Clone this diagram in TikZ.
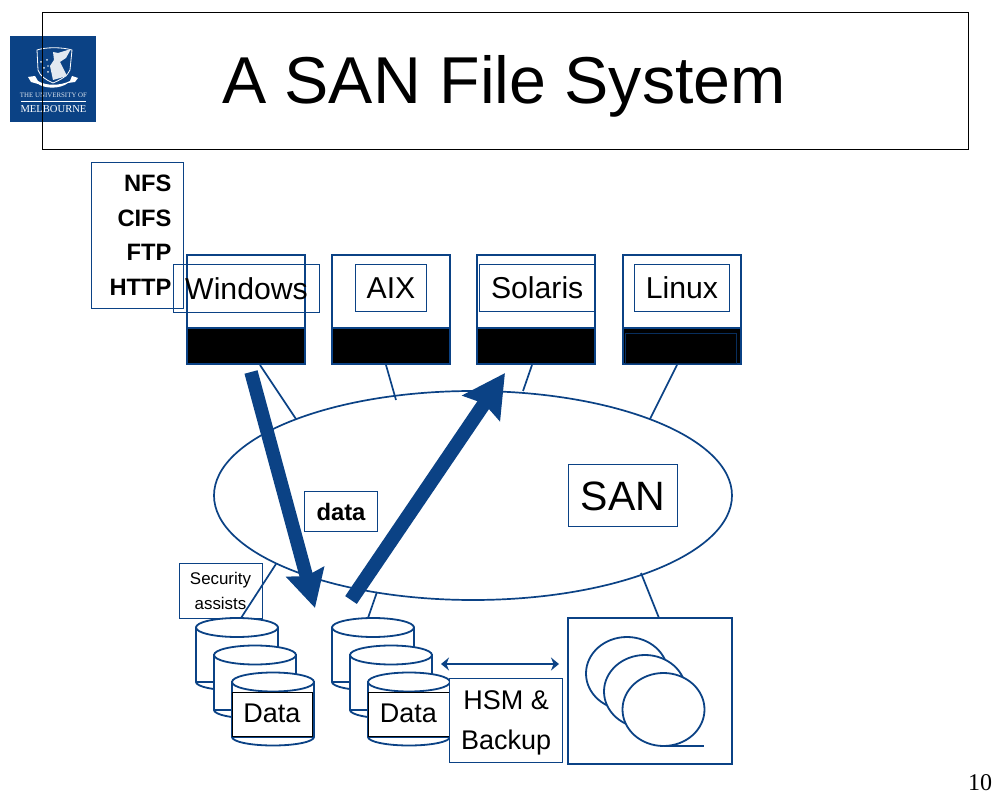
\documentclass[tikz,border=0pt]{standalone}
\usepackage{fontspec}
\setmainfont{Liberation Sans}
\newfontfamily\serifface{Liberation Serif}
\usetikzlibrary{arrows.meta,shapes.geometric}
\definecolor{uni}{HTML}{0B4285}
\newcommand{\fsz}[1]{\fontsize{#1}{#1}\selectfont}
\tikzset{
  x=1pt,y=-1pt,
  every node/.style={inner sep=0pt,outer sep=0pt},
  label box/.style={draw=uni,line width=1pt,text=black,align=center},
  os label/.style={label box,font=\fsz{30.2},text height=21.5pt,text depth=0pt},
  server/.style={draw=uni,line width=2.2pt,minimum width=118pt,minimum height=109pt},
  blackpart/.style={draw=uni,line width=2.2pt,fill=black,minimum width=118pt,minimum height=36pt},
  link/.style={draw=uni,line width=1.7pt},
  flow one/.style={draw=uni,line width=13.5pt,-{Stealth[length=37pt,width=38pt,inset=4pt]}},
  flow two/.style={draw=uni,line width=14pt,-{Stealth[length=42pt,width=44pt,inset=5pt]}},
  can/.style={draw=uni,line width=1.8pt,fill=white},
  data box/.style={draw=black,line width=1pt,fill=white,text=black,font=\fsz{27},text height=19.5pt,text depth=3pt},
  reel/.style={ellipse,draw=uni,line width=1.8pt,fill=white,minimum width=82pt,minimum height=73pt},
}
% #1 left x, #2 top-ellipse centre y, #3 body bottom y
\newcommand{\cylinder}[3]{
  \path[can] (#1,#2) -- (#1,#3) arc[start angle=180,end angle=360,x radius=41pt,y radius=8.5pt] -- ({#1+82},#2) -- cycle;
  \draw[can] ({#1+41},#2) ellipse[x radius=41pt,y radius=9.5pt];
  \draw[can,fill=none] (#1,#3) -- ({#1+82},#3);
}
\begin{document}
\begin{tikzpicture}
\useasboundingbox (0,0) rectangle (994,794);
\fill[white] (0,0) rectangle (994,794);

% logo
\fill[uni] (10,36) rectangle (96,122);
\begin{scope}[white,line width=0.8pt]
  \draw[fill=uni] (37,50) .. controls (46,47) and (62,47) .. (72,50) -- (70,70) .. controls (68,76) and (60,80) .. (53,83) .. controls (46,80) and (40,76) .. (38,70) -- cycle;
  \fill[white!88!uni] (53,52) -- (58,53) -- (71,49) -- (66,58) -- (60,62) -- (67,76) -- (53,80) -- (50,66) -- (54,60) -- cycle;
  \fill[white!88!uni] (41,62) circle (1pt) (47,60) circle (1pt) (44,68) circle (1pt) (48,72) circle (1pt) (48,66) circle (0.8pt);
  \fill[white] (28,77) -- (35,76) -- (38,81) .. controls (46,86) and (60,86) .. (70,81) -- (72,76) -- (78,78) -- (75,82) -- (68,83) .. controls (60,89) and (46,89) .. (38,84) -- (31,82) -- cycle;
  \draw[line width=0.7pt] (21,101.5) -- (86,101.5);
\end{scope}
\node[anchor=base,text=white!85!uni,font=\serifface\fsz{6.9}] (logotop) at (53.5,98) {THE UNIVERSITY OF};
\node[anchor=base,text=white,font=\serifface\fsz{10.6}] (logobottom) at (53.5,112.5) {MELBOURNE};

% title
\node[draw=black,line width=1pt,minimum width=926pt,minimum height=137pt] (titlebox) at (505.5,81) {};
\node[anchor=base,font=\fsz{66.3}] (title) at (504,104) {A SAN File System};
\node[anchor=base,font=\serifface\fsz{24}] (page) at (980,790) {10};

% servers
\node[server] (s1) at (246,309.5) {};
\node[server] (s2) at (391,309.5) {};
\node[server] (s3) at (536,309.5) {};
\node[server] (s4) at (682,309.5) {};
\node[blackpart] (b1) at (246,346) {};
\node[blackpart] (b2) at (391,346) {};
\node[blackpart] (b3) at (536,346) {};
\node[blackpart] (b4) at (682,346) {};
\node[draw=uni!70!black,line width=0.8pt,minimum width=111pt,minimum height=30pt] (b4in) at (680.5,348) {};
\node[os label,minimum width=146pt,minimum height=48pt] (l1) at (246.5,288.5) {Windows};
\node[os label,minimum width=71pt,minimum height=47pt] (l2) at (391,288) {AIX};
\node[os label,minimum width=115.5pt,minimum height=47pt] (l3) at (537.2,288) {Solaris};
\node[os label,minimum width=95pt,minimum height=47.5pt] (l4) at (682,288.2) {Linux};

% protocols
\node[label box,align=right,text width=68pt,inner xsep=12pt,minimum height=145.5pt,font=\bfseries\fsz{23.7},execute at begin node={\setlength{\baselineskip}{34.5pt}}] (proto) at (137.5,235.3) {NFS\\CIFS\\FTP\\HTTP};

% SAN
\node[ellipse,draw=uni,line width=1.7pt,minimum width=518pt,minimum height=209pt] (san) at (473,495.5) {};

% connector ends
\coordinate (a1) at (260,365); \coordinate (e1) at (296,419);
\coordinate (a2) at (386,365); \coordinate (e2) at (396,400);
\coordinate (a3) at (532,365); \coordinate (e3) at (523,391);
\coordinate (a4) at (677,365); \coordinate (e4) at (650,419);
\coordinate (e5) at (276,564); \coordinate (c1) at (241,618);
\coordinate (e6) at (377,592); \coordinate (c2) at (368,618);
\coordinate (e7) at (641,573); \coordinate (t1) at (659,618);
\draw[link] (a1) -- (e1);
\draw[link] (a2) -- (e2);
\draw[link] (a3) -- (e3);
\draw[link] (a4) -- (e4);
\draw[link] (e6) -- (c2);
\draw[link] (e7) -- (t1);

% left cylinders
\cylinder{196}{627.5}{682}
\cylinder{214}{655}{710}
\cylinder{232}{682}{737}
% right cylinders
\cylinder{332}{627.5}{682}
\cylinder{350}{655}{710}
\cylinder{368}{682}{737}
\node[data box,minimum width=80pt,minimum height=44pt] (d1) at (272,714) {Data};
\node[data box,minimum width=81pt,minimum height=44pt] (d2) at (408.5,714) {Data};

% labels
\node[label box,font=\bfseries\fsz{23.8},minimum width=73pt,minimum height=40pt,text height=17pt,text depth=0pt] (datalabel) at (341,511.5) {data};
\node[label box,font=\fsz{41},minimum width=109pt,minimum height=62pt,text height=29.5pt,text depth=0pt] (sanlabel) at (623,495.5) {SAN};
\node[label box,font=\fsz{16.9},minimum width=83pt,minimum height=55pt,execute at begin node={\setlength{\baselineskip}{25pt}}] (security) at (220.5,591) {Security\\assists};
\draw[link] (e5) -- (c1);
\node[label box,fill=white,font=\fsz{27},minimum width=113.5pt,minimum height=84pt,text depth=-5pt,execute at begin node={\setlength{\baselineskip}{40pt}}] (hsm) at (506.2,720.5) {HSM \&\\Backup};

% tape
\node[draw=uni,line width=2.2pt,minimum width=164pt,minimum height=146pt] (tape) at (650,691) {};
\node[reel] (r1) at (627,673.5) {};
\node[reel] (r2) at (645,691.5) {};
\node[reel] (r3) at (663.5,709.5) {};
\coordinate (tail) at (704,746);
\draw[can] (r3.south) -- (tail);

% arrows
\coordinate (h1) at (441,664); \coordinate (h2) at (559,664);
\draw[draw=uni,line width=1.8pt,{Stealth[length=8pt,width=13pt]}-{Stealth[length=8pt,width=13pt]}] (h1) -- (h2);
\coordinate (f1a) at (251,372); \coordinate (f1b) at (315,608);
\coordinate (f2a) at (351,600); \coordinate (f2b) at (505,373);
\draw[flow one] (f1a) -- (f1b);
\draw[flow two] (f2a) -- (f2b);
\end{tikzpicture}
\end{document}
